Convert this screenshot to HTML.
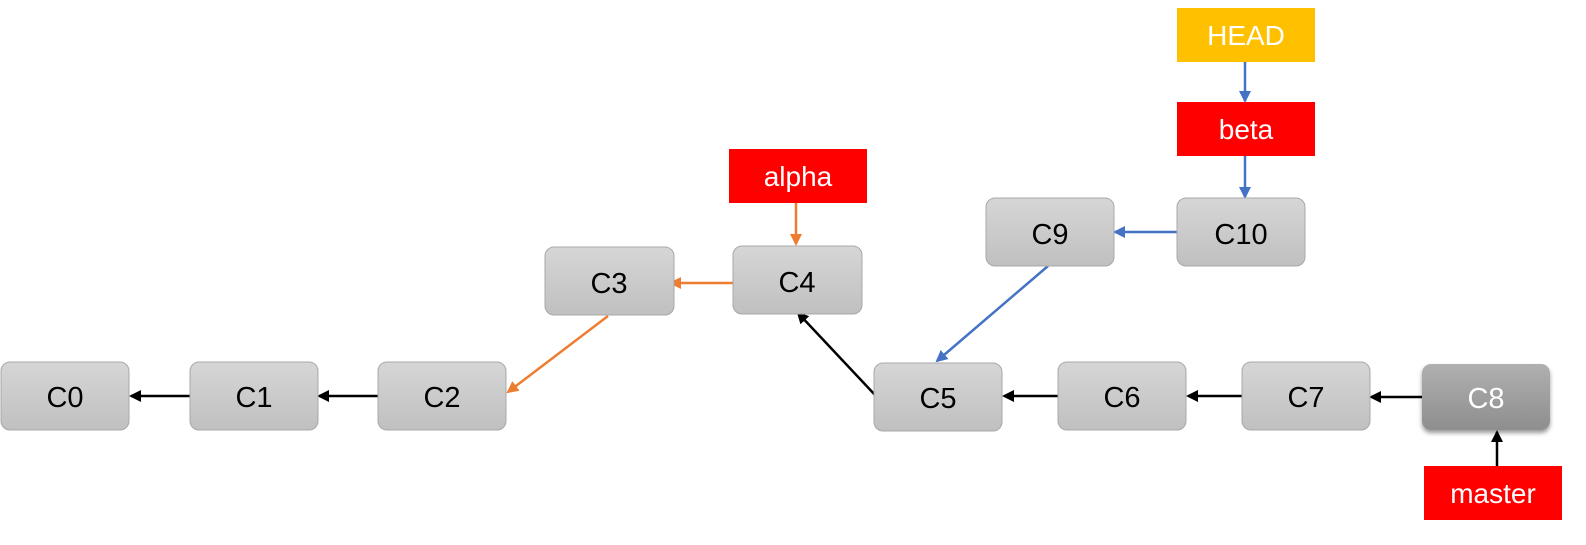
<!DOCTYPE html>
<html><head><meta charset="utf-8"><style>html,body{margin:0;padding:0;background:#fff;overflow:hidden;width:1586px;height:545px}svg{display:block}</style></head>
<body>
<svg width="1586" height="545" viewBox="0 0 1586 545" xmlns="http://www.w3.org/2000/svg">
<defs>
<linearGradient id="g" x1="0" y1="0" x2="0" y2="1"><stop offset="0" stop-color="#d6d6d6"/><stop offset="1" stop-color="#c0c0c0"/></linearGradient>
<linearGradient id="g8" x1="0" y1="0" x2="0" y2="1"><stop offset="0" stop-color="#b0b0b0"/><stop offset="1" stop-color="#8e8e8e"/></linearGradient>
<filter id="sh"><feDropShadow dx="0" dy="3" stdDeviation="2" flood-opacity="0.4"/></filter>
<marker id="ak" markerWidth="12" markerHeight="12" refX="10" refY="6" orient="auto" markerUnits="userSpaceOnUse"><path d="M0,0 L12,6 L0,12z" fill="#000"/></marker>
<marker id="ao" markerWidth="12" markerHeight="12" refX="10" refY="6" orient="auto" markerUnits="userSpaceOnUse"><path d="M0,0 L12,6 L0,12z" fill="#ED7D31"/></marker>
<marker id="ab" markerWidth="12" markerHeight="12" refX="10" refY="6" orient="auto" markerUnits="userSpaceOnUse"><path d="M0,0 L12,6 L0,12z" fill="#4472C4"/></marker>
</defs>
<g stroke-width="2.5" fill="none">
<line x1="190" y1="396" x2="131" y2="396" stroke="#000" marker-end="url(#ak)"/>
<line x1="378" y1="396" x2="319" y2="396" stroke="#000" marker-end="url(#ak)"/>
<line x1="608" y1="316" x2="508" y2="392" stroke="#ED7D31" marker-end="url(#ao)"/>
<line x1="740" y1="283" x2="671" y2="283" stroke="#ED7D31" marker-end="url(#ao)"/>
<line x1="796" y1="203" x2="796" y2="244" stroke="#ED7D31" marker-end="url(#ao)"/>
<line x1="876" y1="396" x2="798" y2="313" stroke="#000" marker-end="url(#ak)"/>
<line x1="1058" y1="396" x2="1004" y2="396" stroke="#000" marker-end="url(#ak)"/>
<line x1="1242" y1="396" x2="1188" y2="396" stroke="#000" marker-end="url(#ak)"/>
<line x1="1422" y1="397" x2="1371" y2="397" stroke="#000" marker-end="url(#ak)"/>
<line x1="1497" y1="466" x2="1497" y2="432" stroke="#000" marker-end="url(#ak)"/>
<line x1="1048" y1="266" x2="937" y2="361" stroke="#4472C4" marker-end="url(#ab)"/>
<line x1="1177" y1="232" x2="1115" y2="232" stroke="#4472C4" marker-end="url(#ab)"/>
<line x1="1245" y1="156" x2="1245" y2="197" stroke="#4472C4" marker-end="url(#ab)"/>
<line x1="1245" y1="62" x2="1245" y2="101" stroke="#4472C4" marker-end="url(#ab)"/>
</g>
<g fill="url(#g)" stroke="#a8a8a8" stroke-width="1">
<rect x="1" y="362" width="128" height="68" rx="9"/>
<rect x="190" y="362" width="128" height="68" rx="9"/>
<rect x="378" y="362" width="128" height="68" rx="9"/>
<rect x="545" y="247" width="129" height="68" rx="9"/>
<rect x="733" y="246" width="129" height="68" rx="9"/>
<rect x="874" y="363" width="128" height="68" rx="9"/>
<rect x="1058" y="362" width="128" height="68" rx="9"/>
<rect x="1242" y="362" width="128" height="68" rx="9"/>
<rect x="986" y="198" width="128" height="68" rx="9"/>
<rect x="1177" y="198" width="128" height="68" rx="9"/>
</g>
<rect x="1422" y="364" width="128" height="66" rx="9" fill="url(#g8)" filter="url(#sh)"/>
<g font-family="Liberation Sans, sans-serif" font-size="29" text-anchor="middle" fill="#000">
<text x="65" y="407">C0</text><text x="254" y="407">C1</text><text x="442" y="407">C2</text>
<text x="609" y="293">C3</text><text x="797" y="292">C4</text><text x="938" y="408">C5</text>
<text x="1122" y="407">C6</text><text x="1306" y="407">C7</text>
<text x="1050" y="244">C9</text><text x="1241" y="244">C10</text>
<text x="1486" y="408" fill="#fff">C8</text>
</g>
<rect x="1177" y="8" width="138" height="54" fill="#FFC000"/>
<rect x="1177" y="102" width="138" height="54" fill="#FF0000"/>
<rect x="729" y="149" width="138" height="54" fill="#FF0000"/>
<rect x="1424" y="466" width="138" height="54" fill="#FF0000"/>
<g font-family="Liberation Sans, sans-serif" font-size="28" text-anchor="middle" fill="#fff">
<text x="1246" y="45">HEAD</text><text x="1246" y="139">beta</text>
<text x="798" y="186">alpha</text><text x="1493" y="503">master</text>
</g>
</svg>
</body></html>
